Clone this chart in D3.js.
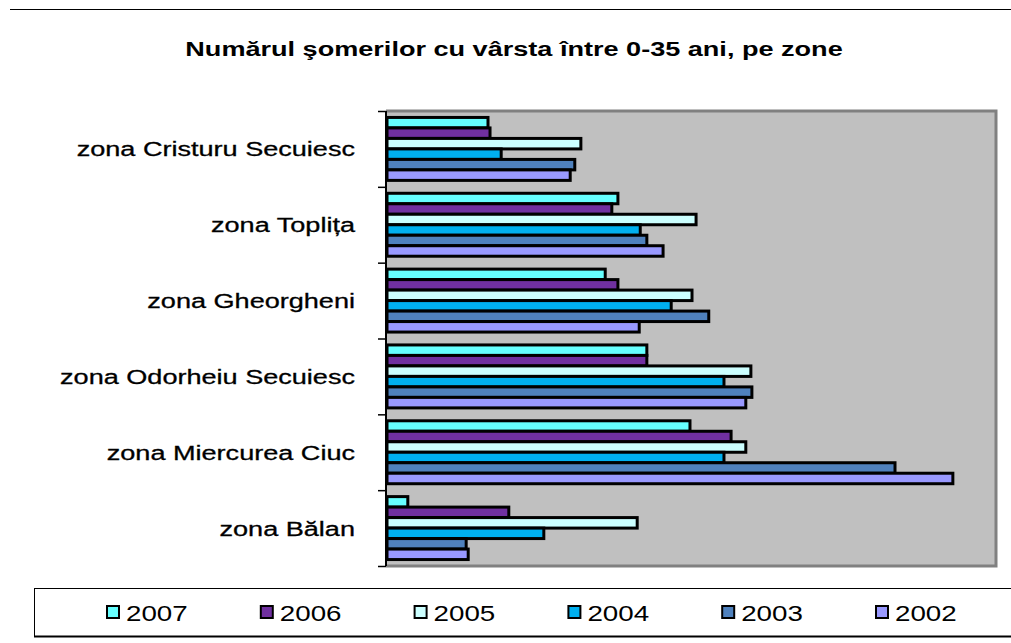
<!DOCTYPE html>
<html>
<head>
<meta charset="utf-8">
<script src="https://cdn.jsdelivr.net/npm/d3@7/dist/d3.min.js"></script>
<style>
  html, body { margin: 0; padding: 0; background: #fff; }
  svg { display: block; font-family: "Liberation Sans", Arial, sans-serif; }
</style>
</head>
<body>
<div id="chart"></div>
<script>
// zones, top to bottom
const zones = ["zona Cristuru Secuiesc", "zona Toplița", "zona Gheorgheni",
               "zona Odorheiu Secuiesc", "zona Miercurea Ciuc", "zona Bălan"];
const years = ["2007", "2006", "2005", "2004", "2003", "2002"];

// values, one array per year (same order as zones)
const v2007 = [199, 455, 430, 512, 597, 41];
const v2006 = [203, 443, 455, 512, 678, 240];
const v2005 = [382, 609, 601, 717, 707, 493];
const v2004 = [225, 499, 560, 664, 664, 309];
const v2003 = [370, 512, 634, 719, 1001, 156];
const v2002 = [361, 544, 497, 707, 1115, 160];
const seriesValues = [v2007, v2006, v2005, v2004, v2003, v2002];
const colors = ["#66FFFF", "#7030A0", "#CCFFFF", "#00B0F0", "#4F81BD", "#9999FF"];

const W = 1011, H = 643;
const plot = { left: 386, right: 996, top: 111, bottom: 566 };
const stretch = 1.29; // the original image is widened horizontally

const svg = d3.select("#chart").append("svg")
  .attr("width", W).attr("height", H);

// rule at top of page
svg.append("line")
  .attr("x1", 10).attr("x2", W).attr("y1", 9.5).attr("y2", 9.5)
  .attr("stroke", "#000").attr("stroke-width", 1);

// title
svg.append("g")
  .attr("transform", `translate(514,56) scale(${stretch},1)`)
  .append("text")
  .attr("text-anchor", "middle")
  .style("font-size", "21px")
  .style("font-weight", "bold")
  .text("Numărul şomerilor cu vârsta între 0-35 ani, pe zone");

// scales
const x = d3.scaleLinear().domain([0, 1200]).range([plot.left + 1, plot.right]);
const y = d3.scaleBand().domain(zones).range([plot.top, plot.bottom])
  .paddingInner(0.17).paddingOuter(0.085);
const yInner = d3.scaleBand().domain(years).range([0, y.bandwidth()]);
const color = d3.scaleOrdinal().domain(years).range(colors);

// plot background
svg.append("rect")
  .attr("x", plot.left).attr("y", plot.top)
  .attr("width", plot.right - plot.left).attr("height", plot.bottom - plot.top)
  .attr("fill", "#C0C0C0");

// bars
const groups = svg.append("g").selectAll("g")
  .data(zones)
  .join("g")
  .attr("transform", d => `translate(0,${y(d)})`);

groups.selectAll("rect")
  .data((z, zi) => years.map((yr, k) => ({ year: yr, value: seriesValues[k][zi] })))
  .join("rect")
  .attr("x", x(0))
  .attr("y", d => yInner(d.year))
  .attr("width", d => x(d.value) - x(0))
  .attr("height", yInner.bandwidth())
  .attr("fill", d => color(d.year))
  .attr("stroke", "#000")
  .attr("stroke-width", 3);

// plot frame (top, right, bottom)
svg.append("path")
  .attr("d", `M${plot.left},${plot.top}H${plot.right}V${plot.bottom}H${plot.left}`)
  .attr("fill", "none")
  .attr("stroke", "#808080")
  .attr("stroke-width", 3);

// category axis with ticks between groups
const yEdges = d3.scaleLinear().domain([0, zones.length]).range([plot.top, plot.bottom]);
const axis = svg.append("g")
  .attr("transform", `translate(${plot.left},0)`)
  .call(d3.axisLeft(yEdges).ticks(zones.length).tickSize(8).tickFormat(""));
axis.select(".domain").attr("stroke-width", 2).attr("d", `M0,${plot.top}V${plot.bottom}`);
axis.selectAll(".tick line").attr("stroke-width", 1.5);

// category labels
svg.append("g").selectAll("g")
  .data(zones)
  .join("g")
  .attr("transform", d => `translate(355,${y(d) + y.bandwidth() / 2 + 7.5}) scale(${stretch},1)`)
  .append("text")
  .attr("text-anchor", "end")
  .style("font-size", "21px")
  .style("stroke", "#000")
  .style("stroke-width", 0.3)
  .text(d => d);

// legend
const legend = svg.append("g");
legend.append("rect")
  .attr("x", 34.5).attr("y", 588.5)
  .attr("width", W + 10).attr("height", 48)
  .attr("fill", "#fff").attr("stroke", "#000").attr("stroke-width", 1);
legend.append("line")
  .attr("x1", 34).attr("x2", W).attr("y1", 636.5).attr("y2", 636.5)
  .attr("stroke", "#000").attr("stroke-width", 2);

const legendX = d3.scalePoint().domain(years).range([106, 875]);
const item = legend.selectAll(".item")
  .data(years)
  .join("g")
  .attr("class", "item")
  .attr("transform", d => `translate(${legendX(d)},612)`);
item.append("rect")
  .attr("x", 1).attr("y", -6)
  .attr("width", 12).attr("height", 12)
  .attr("fill", d => color(d))
  .attr("stroke", "#000").attr("stroke-width", 2);
item.append("g")
  .attr("transform", `translate(20,9) scale(${stretch},1)`)
  .append("text")
  .style("font-size", "21.5px")
  .text(d => d);
</script>
</body>
</html>
